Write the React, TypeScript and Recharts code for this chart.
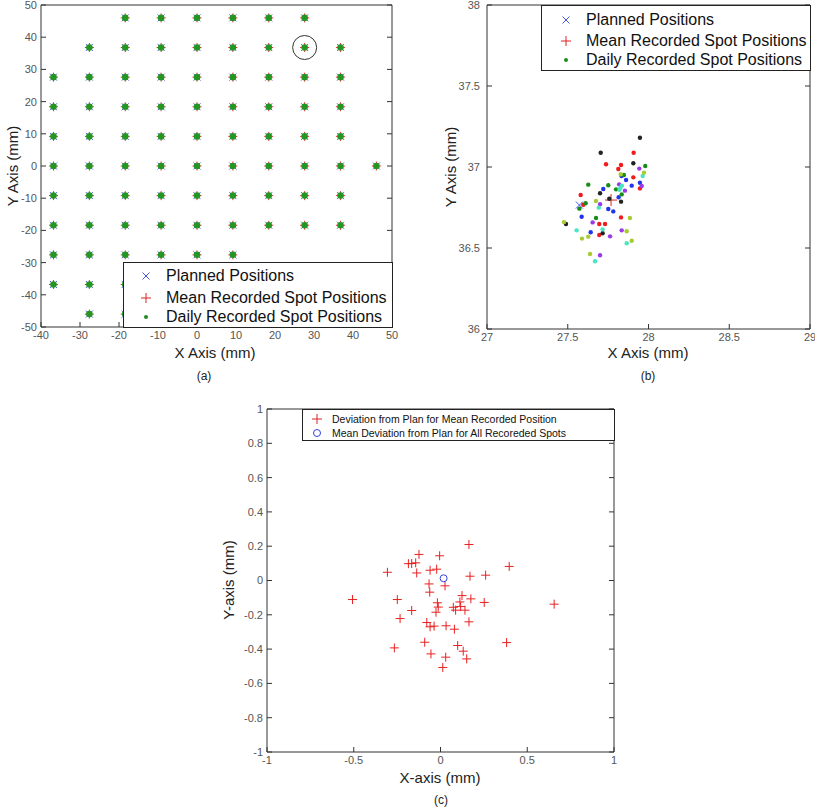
import { ReferenceDot, Scatter, ScatterChart, XAxis, YAxis } from "recharts";

const FONT = '"Liberation Sans", Arial, Helvetica, sans-serif';
const AXIS = "#333";
const TICK = "#555";

// ---- (a) full field: planned spot grid (mm)
const gridRows = [46, 36.8, 27.6, 18.4, 9.2, 0, -9.2, -18.4, -27.6, -36.8, -46];
const rowColumns = [
  [-18.4, -9.2, 0, 9.2, 18.4, 27.6],
  [-27.6, -18.4, -9.2, 0, 9.2, 18.4, 27.6, 36.8],
  [-36.8, -27.6, -18.4, -9.2, 0, 9.2, 18.4, 27.6, 36.8],
  [-36.8, -27.6, -18.4, -9.2, 0, 9.2, 18.4, 27.6, 36.8],
  [-36.8, -27.6, -18.4, -9.2, 0, 9.2, 18.4, 27.6, 36.8],
  [-36.8, -27.6, -18.4, -9.2, 0, 9.2, 18.4, 27.6, 36.8, 46],
  [-36.8, -27.6, -18.4, -9.2, 0, 9.2, 18.4, 27.6, 36.8],
  [-36.8, -27.6, -18.4, -9.2, 0, 9.2, 18.4, 27.6, 36.8],
  [-36.8, -27.6, -18.4, -9.2, 0, 9.2],
  [-36.8, -27.6, -18.4],
  [-27.6, -18.4],
];
const ticksA_X = [-40, -30, -20, -10, 0, 10, 20, 30, 40, 50];
const ticksA_Y = [-50, -40, -30, -20, -10, 0, 10, 20, 30, 40, 50];

// ---- (b) zoom on spot at (27.6, 36.8)
const plannedB = [[27.572, 36.765]];
const meanB = [[27.768, 36.796]];
const dayRed = [[27.908, 37.088], [27.737, 37.017], [27.83, 37.012], [27.813, 36.988], [27.906, 36.936], [27.947, 36.868], [27.58, 36.827], [27.596, 36.767], [27.83, 36.689], [27.695, 36.648], [27.731, 36.648], [27.695, 36.58]];
const dayBlack = [[27.947, 37.181], [27.704, 37.088], [27.906, 37.023], [27.7, 36.838], [27.757, 36.804], [27.83, 36.786], [27.489, 36.648], [27.716, 36.591]];
const dayBlue = [[27.833, 36.944], [27.861, 36.92], [27.947, 36.903], [27.896, 36.885], [27.72, 36.864], [27.815, 36.813], [27.751, 36.741], [27.782, 36.726], [27.586, 36.693], [27.642, 36.597]];
const dayGreen = [[27.98, 37.006], [27.848, 36.951], [27.627, 36.891], [27.751, 36.887], [27.799, 36.862], [27.834, 36.831], [27.611, 36.776], [27.572, 36.743], [27.675, 36.685]];
const dayPurple = [[27.943, 36.99], [27.958, 36.883], [27.818, 36.893], [27.854, 36.854], [27.7, 36.77], [27.654, 36.658], [27.834, 36.609], [27.762, 36.572], [27.7, 36.455]];
const dayCyan = [[27.964, 36.944], [27.835, 36.885], [27.826, 36.87], [27.82, 36.86], [27.692, 36.749], [27.555, 36.609], [27.716, 36.615], [27.865, 36.529], [27.669, 36.418]];
const dayLime = [[27.972, 36.965], [27.828, 36.955], [27.675, 36.79], [27.885, 36.685], [27.477, 36.66], [27.865, 36.603], [27.627, 36.57], [27.588, 36.558], [27.896, 36.545], [27.638, 36.463]];
const ticksB_X = [27, 27.5, 28, 28.5, 29];
const ticksB_Y = [36, 36.5, 37, 37.5, 38];

// ---- (c) deviation from plan (mm)
const deviationC = [
  [0.164, 0.21], [-0.005, 0.144], [-0.124, 0.152], [-0.185, 0.098], [-0.166, 0.099], [-0.143, 0.103],
  [-0.06, 0.06], [-0.022, 0.066], [-0.306, 0.048], [-0.137, 0.044], [0.17, 0.025], [0.26, 0.031],
  [0.396, 0.082], [0.026, -0.031], [-0.066, -0.02], [-0.062, -0.068], [-0.507, -0.111], [-0.249, -0.111],
  [0.175, -0.107], [0.124, -0.088], [0.252, -0.128], [0.655, -0.138], [-0.166, -0.175], [-0.018, -0.13],
  [-0.013, -0.155], [-0.026, -0.185], [0.074, -0.156], [0.087, -0.173], [0.112, -0.125], [0.116, -0.152],
  [0.141, -0.173], [-0.233, -0.222], [0.164, -0.241], [-0.079, -0.245], [-0.06, -0.27], [-0.037, -0.266],
  [0.032, -0.264], [0.08, -0.284], [0.381, -0.362], [-0.266, -0.393], [-0.091, -0.36], [0.099, -0.379],
  [0.131, -0.412], [0.151, -0.457], [-0.055, -0.428], [0.03, -0.447], [0.013, -0.507],
];
const meanDeviationC = [[0.018, 0.013]];
const ticksC_X = [-1, -0.5, 0, 0.5, 1];
const ticksC_Y = [-1, -0.8, -0.6, -0.4, -0.2, 0, 0.2, 0.4, 0.6, 0.8, 1];

const pts = (pairs: number[][]) => pairs.map(([x, y]) => ({ x, y }));

const gridA = pts(gridRows.flatMap((y, i) => rowColumns[i].map((x) => [x, y])));

const crossShape = (size: number, color: string) => (p: any) => (
  <path d={`M${p.cx - size},${p.cy}H${p.cx + size}M${p.cx},${p.cy - size}V${p.cy + size}`} stroke={color} strokeWidth={1} fill="none" />
);
const xShape = (size: number, color: string) => (p: any) => (
  <path
    d={`M${p.cx - size},${p.cy - size}L${p.cx + size},${p.cy + size}M${p.cx - size},${p.cy + size}L${p.cx + size},${p.cy - size}`}
    stroke={color}
    strokeWidth={1}
    fill="none"
  />
);
const dotShape = (r: number, color: string) => (p: any) => <circle cx={p.cx} cy={p.cy} r={r} fill={color} />;
const ringShape = (r: number, color: string) => (p: any) => <circle cx={p.cx} cy={p.cy} r={r} fill="none" stroke={color} strokeWidth={1} />;

function boxAxes(xd: number[], xt: number[], yd: number[], yt: number[], yWidth: number, yMargin: number) {
  const tick = { fill: TICK, fontSize: 11, fontFamily: FONT };
  const blank = () => "";
  return [
    <XAxis key="xb" xAxisId={0} type="number" dataKey="x" domain={xd} ticks={xt} interval={0} allowDataOverflow height={20} tickSize={-5} tickMargin={9} stroke={AXIS} tick={tick} />,
    <XAxis key="xt" xAxisId="top" orientation="top" type="number" domain={xd} ticks={xt} interval={0} allowDataOverflow height={1} tickSize={-5} stroke={AXIS} tickFormatter={blank} />,
    <YAxis key="yl" yAxisId={0} type="number" dataKey="y" domain={yd} ticks={yt} interval={0} allowDataOverflow width={yWidth} tickSize={-5} tickMargin={yMargin} stroke={AXIS} tick={tick} />,
    <YAxis key="yr" yAxisId="right" orientation="right" type="number" domain={yd} ticks={yt} interval={0} allowDataOverflow width={1} tickSize={-5} stroke={AXIS} tickFormatter={blank} />,
  ];
}

type Item = { label: string; icon: "x" | "+" | "dot" | "o" };

function Icon({ kind, s }: { kind: Item["icon"]; s: number }) {
  const c = s / 2;
  return (
    <svg width={s} height={s} style={{ display: "block" }}>
      {kind === "x" && <path d={`M${c - 3.5},${c - 3.5}L${c + 3.5},${c + 3.5}M${c - 3.5},${c + 3.5}L${c + 3.5},${c - 3.5}`} stroke="#4455dd" />}
      {kind === "+" && <path d={`M${c - 5},${c}H${c + 5}M${c},${c - 5}V${c + 5}`} stroke="#e02020" />}
      {kind === "dot" && <circle cx={c} cy={c} r={2} fill="#1e8c1e" />}
      {kind === "o" && <circle cx={c} cy={c} r={3.5} fill="none" stroke="#3344dd" />}
    </svg>
  );
}

function LegendBox(props: { left: number; top: number; width: number; height: number; items: Item[]; fontSize: number; iconX: number; textX: number; rows: number[] }) {
  const { left, top, width, height, items, fontSize, iconX, textX, rows } = props;
  return (
    <div style={{ position: "absolute", left, top, width, height, background: "#fff", border: "1px solid #222", boxSizing: "border-box", fontFamily: FONT, fontSize, color: "#111" }}>
      {items.map((it, i) => (
        <div key={it.label}>
          <div style={{ position: "absolute", left: iconX - 7, top: rows[i] - 7 }}>
            <Icon kind={it.icon} s={14} />
          </div>
          <div style={{ position: "absolute", left: textX, top: rows[i], transform: "translateY(-50%)", whiteSpace: "nowrap" }}>{it.label}</div>
        </div>
      ))}
    </div>
  );
}

function Title({ x, y, text, size = 15, rotate = false }: { x: number; y: number; text: string; size?: number; rotate?: boolean }) {
  return (
    <div
      style={{
        position: "absolute",
        left: x,
        top: y,
        transform: `translate(-50%, -50%)${rotate ? " rotate(-90deg)" : ""}`,
        fontFamily: FONT,
        fontSize: size,
        color: "#222",
        whiteSpace: "nowrap",
      }}
    >
      {text}
    </div>
  );
}

const spotItems: Item[] = [
  { label: "Planned Positions", icon: "x" },
  { label: "Mean Recorded Spot Positions", icon: "+" },
  { label: "Daily Recorded Spot Positions", icon: "dot" },
];

export default function App() {
  return (
    <div style={{ position: "absolute", left: 0, top: 0, width: 815, height: 812, background: "#fff", overflow: "hidden" }}>
      {/* (a) */}
      <div style={{ position: "absolute", left: 0, top: 0 }}>
        <ScatterChart width={400} height={365} margin={{ top: 4, right: 7, bottom: 18, left: 5 }}>
          {boxAxes([-40, 50], ticksA_X, [-50, 50], ticksA_Y, 36, 9)}
          <Scatter data={gridA} isAnimationActive={false} shape={xShape(3.5, "#5566dd")} />
          <Scatter data={gridA} isAnimationActive={false} shape={crossShape(4.5, "#e83030")} />
          <Scatter data={gridA} isAnimationActive={false} shape={dotShape(3.3, "#239623")} />
          <ReferenceDot x={27.6} y={36.8} r={12} fill="none" stroke="#333" strokeWidth={1} />
        </ScatterChart>
      </div>
      <LegendBox left={123} top={262} width={270} height={66} items={spotItems} fontSize={16} iconX={22} textX={42} rows={[13, 35, 54]} />
      <Title x={12} y={166} text="Y Axis (mm)" rotate />
      <Title x={215} y={352} text="X Axis (mm)" />
      <Title x={204} y={376} text="(a)" size={12} />

      {/* (b) */}
      <div style={{ position: "absolute", left: 420, top: 0 }}>
        <ScatterChart width={395} height={365} margin={{ top: 4, right: 4, bottom: 16, left: 27 }}>
          {boxAxes([27, 29], ticksB_X, [36, 38], ticksB_Y, 40, 12)}
          <Scatter data={pts(plannedB)} isAnimationActive={false} shape={xShape(3.5, "#4455ee")} />
          <Scatter data={pts(meanB)} isAnimationActive={false} shape={crossShape(6, "#e02020")} />
          <Scatter data={pts(dayRed)} isAnimationActive={false} shape={dotShape(2.2, "#ee1c1c")} />
          <Scatter data={pts(dayBlack)} isAnimationActive={false} shape={dotShape(2.2, "#222222")} />
          <Scatter data={pts(dayBlue)} isAnimationActive={false} shape={dotShape(2.2, "#2233ee")} />
          <Scatter data={pts(dayGreen)} isAnimationActive={false} shape={dotShape(2.2, "#1a8c1a")} />
          <Scatter data={pts(dayPurple)} isAnimationActive={false} shape={dotShape(2.2, "#9a3ae8")} />
          <Scatter data={pts(dayCyan)} isAnimationActive={false} shape={dotShape(2.2, "#48e6c2")} />
          <Scatter data={pts(dayLime)} isAnimationActive={false} shape={dotShape(2.2, "#a8cc30")} />
        </ScatterChart>
      </div>
      <LegendBox left={541} top={5} width={270} height={66} items={spotItems} fontSize={16} iconX={24} textX={44} rows={[14, 35, 54]} />
      <Title x={450} y={167} text="Y Axis (mm)" rotate />
      <Title x={648} y={352} text="X Axis (mm)" />
      <Title x={648} y={376} text="(b)" size={12} />

      {/* (c) */}
      <div style={{ position: "absolute", left: 200, top: 400 }}>
        <ScatterChart width={420} height={380} margin={{ top: 8, right: 5, bottom: 8, left: 27 }}>
          {boxAxes([-1, 1], ticksC_X, [-1, 1], ticksC_Y, 40, 9)}
          <Scatter data={pts(deviationC)} isAnimationActive={false} shape={crossShape(4.5, "#e82020")} />
          <Scatter data={pts(meanDeviationC)} isAnimationActive={false} shape={ringShape(3.5, "#3344dd")} />
        </ScatterChart>
      </div>
      <LegendBox
        left={302}
        top={409}
        width={313}
        height={32}
        items={[
          { label: "Deviation from Plan for Mean Recorded Position", icon: "+" },
          { label: "Mean Deviation from Plan for All Recoreded Spots", icon: "o" },
        ]}
        fontSize={10.5}
        iconX={14}
        textX={29}
        rows={[9, 23]}
      />
      <Title x={228} y={580} text="Y-axis (mm)" rotate />
      <Title x={440} y={777} text="X-axis (mm)" />
      <Title x={441} y={800} text="(c)" size={12} />
    </div>
  );
}
